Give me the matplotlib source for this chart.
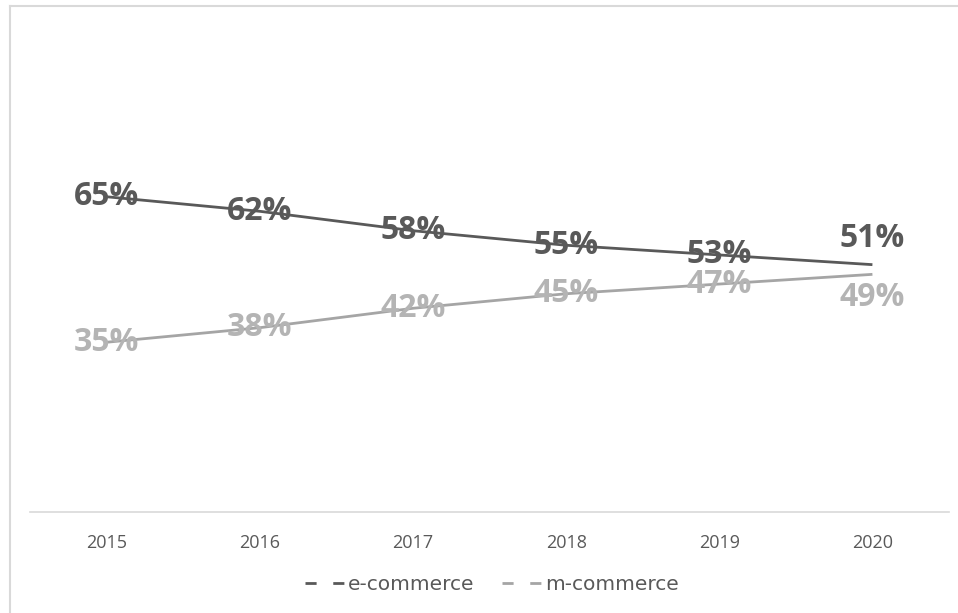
import matplotlib
matplotlib.use("Agg")
import matplotlib.pyplot as plt
from matplotlib.lines import Line2D

years = ["2015", "2016", "2017", "2018", "2019", "2020"]
ecommerce = [65, 62, 58, 55, 53, 51]
mcommerce = [35, 38, 42, 45, 47, 49]

dark = "#595959"
light = "#a5a5a5"
dark_txt = "#595959"
light_txt = "#b4b4b4"

plt.rcParams["font.family"] = ["Open Sans", "DejaVu Sans"]

fig = plt.figure(figsize=(9.58, 6.13), dpi=100)
W, H = 958, 613
ax = fig.add_axes([30 / W, 1 - 512 / H, (949 - 30) / W, (512 - 27) / H])

x = list(range(len(years)))
ax.plot(x, ecommerce, color=dark, lw=2, solid_capstyle="butt")
ax.plot(x, mcommerce, color=light, lw=2, solid_capstyle="butt")
ax.set_xlim(-0.5, len(years) - 0.5)
ax.set_ylim(0, 100)

# data labels, centred on points except the last pair
for i, (e, m) in enumerate(zip(ecommerce, mcommerce)):
    dy_e = 0
    dy_m = 0
    if i == len(years) - 1:
        dy_e = 19
        dy_m = -17
    ax.annotate(f"{e}%", (i, e), xytext=(0, dy_e), textcoords="offset points",
                ha="center", va="center", fontsize=23, fontweight="bold",
                color=dark_txt)
    ax.annotate(f"{m}%", (i, m), xytext=(0, dy_m), textcoords="offset points",
                ha="center", va="center", fontsize=23, fontweight="bold",
                color=light_txt)

ax.set_xticks(x)
ax.set_xticklabels(years, fontsize=13, color="#595959")
ax.tick_params(axis="x", length=0, pad=16)
ax.set_yticks([])
for side in ["left", "right", "top"]:
    ax.spines[side].set_visible(False)
ax.spines["bottom"].set_color("#d9d9d9")
ax.spines["bottom"].set_linewidth(1.2)

handles = [
    Line2D([], [], color=dark, lw=2, ls=(0, (4, 6))),
    Line2D([], [], color=light, lw=2, ls=(0, (4, 6))),
]
fig.legend(handles, ["e-commerce", "m-commerce"], loc="center",
           bbox_to_anchor=(492 / W, 1 - 585 / H), ncol=2, frameon=False,
           prop={"family": "DejaVu Sans", "size": 14.5},
           labelcolor="#595959", handlelength=2.0,
           handletextpad=0.1, columnspacing=1.4)

# outer chart border (top and left visible)
fig.add_artist(Line2D([10 / W, 10 / W], [0, 1 - 6 / H], color="#d9d9d9",
                      lw=1.5, transform=fig.transFigure))
fig.add_artist(Line2D([10 / W, 1], [1 - 6 / H, 1 - 6 / H], color="#d9d9d9",
                      lw=1.5, transform=fig.transFigure))

fig.savefig("out.png", dpi=100)
